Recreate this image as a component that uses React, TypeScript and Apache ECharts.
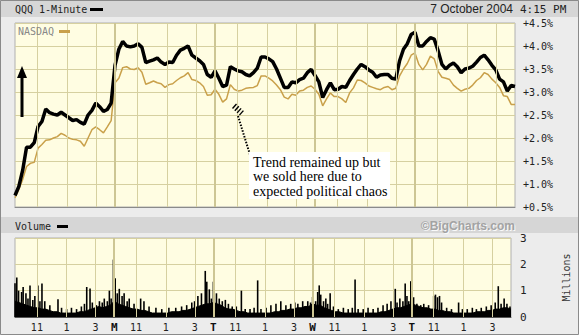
import React, { useEffect, useRef } from "react";
import * as echarts from "echarts";

// Sample times: trading minutes since Fri 1 Oct 9:30, 390 per session, every 15 min
const MINUTES = Array.from({ length: 131 }, (_, i) => i * 15);

// QQQ % change (black)
const QQQ = [
  0.75, 0.95, 1.3, 1.8, 1.8, 1.9, 2.25, 2.36, 2.63, 2.55, 2.52, 2.5, 2.56, 2.5, 2.44, 2.38, 2.4, 2.34, 2.3, 2.5, 2.6, 2.76, 2.68, 2.58, 2.62, 2.76,
  3.58, 3.93, 4.1, 4.0, 3.98, 4.0, 4.05, 3.97, 3.64, 3.67, 3.7, 3.74, 3.65, 3.6, 3.65, 3.64, 3.8, 3.91, 3.95, 4.0, 3.8, 3.74, 3.68, 3.6, 3.38, 3.32,
  3.46, 3.3, 3.12, 3.15, 3.55, 3.5, 3.46, 3.44, 3.38, 3.35, 3.42, 3.52, 3.76, 3.76, 3.72, 3.66, 3.5, 3.3, 3.1, 3.1, 3.22, 3.2, 3.27, 3.3, 3.42, 3.49,
  3.36, 3.22, 2.88, 3.05, 3.2, 3.05, 3.06, 3.12, 3.1, 3.25, 3.38, 3.5, 3.6, 3.55, 3.48, 3.43, 3.32, 3.37, 3.38, 3.38, 3.3, 3.28, 3.68, 3.93, 4.05, 4.25,
  4.3, 4.0, 4.0, 4.1, 4.18, 4.15, 3.9, 3.6, 3.5, 3.58, 3.63, 3.55, 3.42, 3.5, 3.52, 3.56, 3.65, 3.75, 3.8, 3.7, 3.58, 3.48, 3.28, 3.22, 3.02, 3.14, 3.12,
];

// NASDAQ % change (gold)
const NASDAQ = [
  0.7, 0.88, 1.1, 1.38, 1.45, 1.47, 1.78, 1.86, 1.95, 1.96, 2.0, 2.03, 2.1, 2.06, 2.0, 1.97, 1.96, 1.93, 1.82, 2.0, 2.18, 2.24, 2.18, 2.11, 2.24, 2.38,
  3.2, 3.3, 3.53, 3.55, 3.5, 3.49, 3.53, 3.43, 3.17, 3.2, 3.24, 3.2, 3.18, 3.1, 3.16, 3.18, 3.25, 3.31, 3.35, 3.42, 3.27, 3.25, 3.2, 3.12, 2.93, 2.94,
  3.06, 2.95, 2.78, 2.85, 3.16, 3.06, 3.02, 3.04, 3.08, 3.09, 3.1, 3.14, 3.35, 3.35, 3.3, 3.24, 3.15, 3.05, 2.89, 2.85, 2.95, 2.93, 3.02, 3.04, 3.1, 3.13,
  3.06, 2.95, 2.7, 2.85, 2.98, 2.9, 2.9, 2.85, 2.77, 2.98, 3.09, 3.26, 3.25, 3.2, 3.13, 3.1, 3.07, 3.05, 3.1, 3.12, 3.05, 3.08, 3.35, 3.5, 3.62, 3.8,
  3.85, 3.6, 3.48, 3.6, 3.78, 3.72, 3.45, 3.32, 3.3, 3.27, 3.15, 3.08, 3.02, 3.06, 3.08, 3.15, 3.25, 3.31, 3.42, 3.38, 3.28, 3.2, 3.1, 2.92, 2.9, 2.73, 2.73,
];

// Volume (millions): dense base level
const VOLUME_BASE = [
  0.6, 0.55, 0.5, 0.45, 0.4, 0.35, 0.35, 0.3, 0.3, 0.25, 0.2, 0.2, 0.15, 0.15, 0.15, 0.15, 0.15, 0.2, 0.2, 0.25, 0.3, 0.35, 0.4, 0.35, 0.4, 0.45,
  0.6, 0.5, 0.45, 0.4, 0.35, 0.3, 0.3, 0.25, 0.25, 0.2, 0.15, 0.15, 0.15, 0.15, 0.15, 0.2, 0.2, 0.2, 0.25, 0.25, 0.3, 0.35, 0.4, 0.45, 0.5, 0.5,
  0.55, 0.5, 0.45, 0.35, 0.3, 0.3, 0.25, 0.2, 0.2, 0.15, 0.15, 0.15, 0.15, 0.15, 0.15, 0.15, 0.2, 0.2, 0.25, 0.25, 0.3, 0.3, 0.35, 0.35, 0.4, 0.4,
  0.5, 0.45, 0.45, 0.35, 0.3, 0.25, 0.2, 0.2, 0.15, 0.15, 0.15, 0.15, 0.15, 0.15, 0.15, 0.15, 0.15, 0.15, 0.2, 0.2, 0.25, 0.3, 0.35, 0.35, 0.4, 0.45,
  0.5, 0.45, 0.4, 0.35, 0.35, 0.3, 0.3, 0.25, 0.25, 0.2, 0.2, 0.15, 0.15, 0.15, 0.15, 0.15, 0.15, 0.2, 0.2, 0.2, 0.25, 0.25, 0.3, 0.3, 0.35, 0.35, 0.3,
];

// Volume spikes (individual minutes)
const SPIKE_MINUTES = [
  0, 7, 14, 26, 32, 43, 51, 59, 70, 78, 90, 98, 106, 117, 137, 169, 183, 203, 222, 242, 261, 273, 282, 295, 304, 320, 332, 343, 351, 363, 371, 378,
  387, 394, 402, 410, 421, 429, 441, 449, 468, 494, 507, 527, 554, 577, 605, 632, 655, 675, 695, 706, 719, 733, 748, 754, 764, 772, 780, 792, 803,
  815, 827, 839, 854, 870, 890, 905, 924, 940, 954, 967, 987, 1006, 1026, 1045, 1065, 1084, 1100, 1112, 1131, 1151, 1162, 1170, 1182, 1190, 1196,
  1202, 1213, 1222, 1229, 1239, 1252, 1271, 1291, 1310, 1326, 1337, 1349, 1369, 1388, 1408, 1427, 1447, 1463, 1478, 1495, 1502, 1513, 1525, 1534,
  1541, 1548, 1556, 1567, 1580, 1595, 1607, 1626, 1646, 1653, 1661, 1669, 1677, 1697, 1716, 1744, 1759, 1778, 1798, 1814, 1833, 1853, 1872, 1888,
  1900, 1911, 1923, 1934, 1946,
];
const SPIKE_VOLUMES = [
  1.28, 1.5, 1.0, 0.95, 1.14, 0.9, 0.7, 1.2, 0.65, 0.8, 1.2, 0.6, 1.27, 0.6, 0.45, 0.67, 0.35, 0.3, 0.35, 0.3, 0.4, 0.5, 1.14, 1.08, 0.55, 0.45, 0.6, 0.55, 0.7, 0.6, 1.0, 0.7,
  2.18, 1.47, 0.9, 1.07, 0.8, 0.9, 0.6, 0.7, 0.5, 0.7, 0.6, 0.4, 0.35, 0.3, 0.35, 0.35, 0.4, 0.45, 0.55, 0.6, 0.8, 0.9, 1.75, 1.34, 1.05, 0.7, 1.34, 0.9, 0.7,
  0.6, 0.65, 0.5, 0.4, 0.4, 1.0, 0.3, 0.3, 0.35, 1.39, 0.3, 0.35, 0.45, 0.5, 0.6, 0.45, 0.5, 0.55, 0.5, 0.6, 0.6, 0.55, 0.76, 0.6, 0.95, 1.2,
  0.85, 0.6, 0.7, 0.5, 0.9, 0.4, 0.3, 0.35, 0.3, 0.35, 1.42, 0.3, 0.3, 0.35, 0.3, 0.35, 0.45, 0.5, 0.6, 1.07, 0.55, 0.7, 0.6, 1.27,
  0.8, 0.6, 1.36, 0.75, 0.5, 0.45, 0.5, 0.45, 0.8, 0.85, 0.75, 0.8, 0.55, 0.35, 0.3, 0.55, 0.3, 0.3, 0.35, 0.3, 0.35, 0.4, 0.45, 0.55,
  1.17, 0.5, 0.7, 0.5, 0.4,
];

// Time axis ticks
const TICK_MINUTES = [86, 203, 317, 390, 476, 593, 707, 780, 866, 983, 1097, 1170, 1256, 1373, 1487, 1560, 1646, 1763, 1877];
const TICK_LABELS = ["11", "1", "3", "M", "11", "1", "3", "T", "11", "1", "3", "W", "11", "1", "3", "T", "11", "1", "3"];
const DAY_STARTS = [390, 780, 1170, 1560];

const MONO = "'DejaVu Sans Mono', monospace";
const GRID = "#d6d0a0";
const DAYLINE = "#cdc694";
const GOLD = "#c9a04a";
const PLOT_BG = "#fffde2";

function gridMarkLine() {
  const thin = TICK_MINUTES.filter((m) => DAY_STARTS.indexOf(m) < 0);
  return {
    silent: true,
    symbol: ["none", "none"],
    label: { show: false },
    animation: false,
    data: [
      ...thin.map((m) => ({ xAxis: m, lineStyle: { color: GRID, width: 1, type: "solid" } })),
      ...DAY_STARTS.map((m) => ({ xAxis: m, lineStyle: { color: DAYLINE, width: 2, type: "solid" } })),
    ],
  };
}

const hatches = [0, 1, 2, 3].map((k) => ({
  type: "line",
  shape: { x1: 232.5 + 2.3 * k, y1: 108.5 + 2.2 * k, x2: 236.5 + 2.3 * k, y2: 104 + 2.2 * k },
  style: { stroke: "#000", lineWidth: 1.4 },
  z: 50,
}));

function buildOption() {
  return {
    animation: false,
    backgroundColor: "#ececec",
    grid: [
      { left: 15, top: 23, width: 500, height: 184, show: true, backgroundColor: PLOT_BG, borderColor: "#b0b0b0", borderWidth: 1 },
      { left: 15, top: 238, width: 500, height: 79, show: true, backgroundColor: PLOT_BG, borderColor: "#b0b0b0", borderWidth: 1 },
    ],
    xAxis: [
      {
        type: "value", gridIndex: 0, min: 0, max: 1950,
        axisLine: { show: true, lineStyle: { color: "#8a8a8a" } },
        axisTick: { show: false }, axisLabel: { show: false }, splitLine: { show: false },
      },
      {
        type: "value", gridIndex: 1, min: 0, max: 1950,
        axisLine: { show: true, lineStyle: { color: "#555" } },
        axisTick: { show: false }, splitLine: { show: false },
        axisLabel: {
          customValues: TICK_MINUTES,
          fontFamily: MONO, fontSize: 10, color: "#222", margin: 5,
          formatter: (v: number) => {
            const i = TICK_MINUTES.indexOf(Math.round(v));
            if (i < 0) return "";
            const lbl = TICK_LABELS[i];
            return DAY_STARTS.indexOf(TICK_MINUTES[i]) >= 0 ? "{d|" + lbl + "}" : lbl;
          },
          rich: { d: { fontFamily: MONO, fontSize: 11, fontWeight: "bold", color: "#111" } },
        },
      },
    ],
    yAxis: [
      {
        type: "value", gridIndex: 0, position: "right", min: 0.5, max: 4.5, interval: 0.5,
        axisLine: { show: false }, axisTick: { show: false },
        axisLabel: { formatter: (v: number) => "+" + v.toFixed(1) + "%", fontFamily: MONO, fontSize: 10, color: "#222", margin: 8 },
        splitLine: { lineStyle: { color: GRID, width: 1 } },
      },
      {
        type: "value", gridIndex: 1, position: "right", min: 0, max: 3, interval: 1,
        name: "Millions", nameLocation: "middle", nameRotate: 90, nameGap: 50,
        nameTextStyle: { fontFamily: MONO, fontSize: 10, color: "#333" },
        axisLine: { show: false }, axisTick: { show: false },
        axisLabel: { fontFamily: MONO, fontSize: 11, color: "#222", margin: 9 },
        splitLine: { lineStyle: { color: GRID, width: 1 } },
      },
    ],
    series: [
      { type: "line", xAxisIndex: 0, yAxisIndex: 0, data: [], silent: true, z: 1, markLine: gridMarkLine() },
      { type: "line", xAxisIndex: 1, yAxisIndex: 1, data: [], silent: true, z: 1, markLine: gridMarkLine() },
      {
        name: "NASDAQ", type: "line", xAxisIndex: 0, yAxisIndex: 0, z: 3,
        data: MINUTES.map((m, i) => [m, NASDAQ[i]]),
        symbol: "none", showSymbol: false, lineStyle: { color: GOLD, width: 1.5 },
      },
      {
        name: "QQQ", type: "line", xAxisIndex: 0, yAxisIndex: 0, z: 4,
        data: MINUTES.map((m, i) => [m, QQQ[i]]),
        symbol: "none", showSymbol: false, lineStyle: { color: "#000", width: 3.5 },
      },
      {
        name: "Volume", type: "line", xAxisIndex: 1, yAxisIndex: 1, z: 3,
        data: MINUTES.map((m, i) => [m, VOLUME_BASE[i]]),
        symbol: "none", showSymbol: false, lineStyle: { color: "#000", width: 1 },
        areaStyle: { color: "#000", opacity: 1 },
      },
      {
        name: "Spikes", type: "bar", xAxisIndex: 1, yAxisIndex: 1, z: 3,
        data: SPIKE_MINUTES.map((m, i) => [m, SPIKE_VOLUMES[i]]),
        barWidth: 1.6, itemStyle: { color: "#000" },
      },
    ],
    graphic: [
      { type: "rect", shape: { x: 0, y: 0, width: 579, height: 17 }, style: { fill: "#d6d6d6" }, z: -5 },
      { type: "rect", shape: { x: 0, y: 217, width: 579, height: 16 }, style: { fill: "#d6d6d6" }, z: -5 },
      { type: "rect", shape: { x: 0.5, y: 0.5, width: 578, height: 334 }, style: { fill: "none", stroke: "#8a8a8a", lineWidth: 1 }, z: 60 },
      { type: "text", x: 15, y: 9, style: { text: "QQQ 1-Minute", font: "10px " + MONO, fill: "#222", verticalAlign: "middle" } },
      { type: "rect", shape: { x: 90, y: 8, width: 13, height: 3 }, style: { fill: "#000" } },
      { type: "text", x: 513, y: 9, style: { text: "7 October 2004", font: "12px 'Liberation Sans', Arial, sans-serif", fill: "#222", align: "right", verticalAlign: "middle" } },
      { type: "text", x: 520, y: 9, style: { text: "4:15 PM", font: "11px " + MONO, fill: "#222", verticalAlign: "middle" } },
      { type: "text", x: 18, y: 31, style: { text: "NASDAQ", font: "10px " + MONO, fill: "#888", verticalAlign: "middle" }, z: 20 },
      { type: "rect", shape: { x: 59, y: 30, width: 11, height: 3 }, style: { fill: GOLD }, z: 20 },
      { type: "text", x: 15, y: 226, style: { text: "Volume", font: "10px " + MONO, fill: "#222", verticalAlign: "middle" } },
      { type: "rect", shape: { x: 57, y: 225, width: 11, height: 3 }, style: { fill: "#000" } },
      { type: "text", x: 516, y: 227, style: { text: "©BigCharts.com", font: "bold 12px 'Liberation Sans', Arial, sans-serif", fill: "#fafafa", align: "right", verticalAlign: "middle" } },
      { type: "text", x: 515, y: 226, style: { text: "©BigCharts.com", font: "bold 12px 'Liberation Sans', Arial, sans-serif", fill: "#a3a3a3", align: "right", verticalAlign: "middle" } },
      // upward arrow
      { type: "line", shape: { x1: 22, y1: 117, x2: 22, y2: 76 }, style: { stroke: "#000", lineWidth: 3 }, z: 50 },
      { type: "polygon", shape: { points: [[17, 78], [22, 66], [27, 78]] }, style: { fill: "#000" }, z: 50 },
      // annotation
      ...hatches,
      { type: "line", shape: { x1: 238, y1: 116, x2: 251, y2: 158 }, style: { stroke: "#000", lineWidth: 2, lineDash: [1.5, 1.5] }, z: 50 },
      { type: "rect", shape: { x: 249, y: 152, width: 141, height: 47 }, style: { fill: "#ffffff" }, z: 50 },
      {
        type: "text", x: 253, y: 155, z: 51,
        style: {
          text: "Trend remained up but\nwe sold here due to\nexpected political chaos",
          font: "14px 'Liberation Serif', 'Times New Roman', serif", fill: "#000", lineHeight: 14.5, verticalAlign: "top",
        },
      },
    ],
  };
}

export default function App() {
  const ref = useRef<HTMLDivElement>(null);
  useEffect(() => {
    if (!ref.current) return;
    const chart = echarts.init(ref.current, null, { renderer: "svg" });
    chart.setOption(buildOption() as any);
    return () => chart.dispose();
  }, []);
  return <div ref={ref} style={{ position: "fixed", left: 0, top: 0, width: 579, height: 335 }} />;
}
